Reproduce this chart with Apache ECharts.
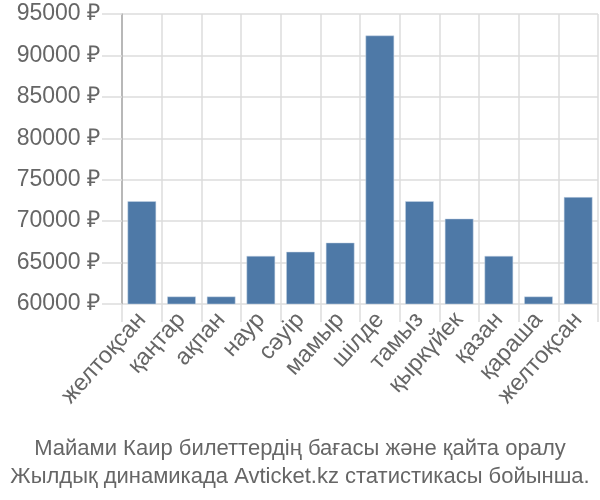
<!DOCTYPE html>
<html><head><meta charset="utf-8">
<script src="https://cdn.jsdelivr.net/npm/echarts@6/dist/echarts.min.js"></script>
<style>html,body{margin:0;padding:0;background:#fff}#c{width:600px;height:500px}</style>
</head><body><div id="c"></div>
<script>
const categories = ['желтоқсан','қаңтар','ақпан','наур','сәуір','мамыр','шілде','тамыз','қыркүйек','қазан','қараша','желтоқсан'];
const prices = [72400, 60900, 60900, 65800, 66300, 67400, 92400, 72400, 70300, 65800, 60900, 72900];
const titleLines = ['Майами Каир билеттердің бағасы және қайта оралу', 'Жылдық динамикада Avticket.kz статистикасы бойынша.'];

const chart = echarts.init(document.getElementById('c'));
chart.setOption({
  animation: false,
  title: {
    text: titleLines.join('\n'),
    left: 'center', bottom: 4,
    textStyle: { fontFamily: 'Liberation Sans', fontSize: 22, fontWeight: 'normal', color: '#666', lineHeight: 28 }
  },
  grid: { left: 122, right: 2, top: 14, bottom: 196 },
  xAxis: {
    type: 'category', data: categories,
    axisLine: { show: false },
    axisTick: { show: true, length: 18, lineStyle: { color: '#ddd', width: 1.5 } },
    splitLine: { show: true, lineStyle: { color: '#ddd', width: 1.5 } },
    axisLabel: { rotate: 48, fontFamily: 'Liberation Sans', fontSize: 23.5, color: '#666', margin: 12, interval: 0 }
  },
  yAxis: {
    type: 'value', min: 60000, max: 95000, interval: 5000,
    axisLine: { show: true, lineStyle: { color: '#aaa', width: 1.5 } },
    axisTick: { show: true, length: 20, lineStyle: { color: '#ddd', width: 1.5 } },
    splitLine: { lineStyle: { color: '#ddd', width: 1.5 } },
    axisLabel: { formatter: v => v + ' ₽', fontFamily: 'Liberation Sans', fontSize: 23, color: '#666', margin: 22 }
  },
  series: [{
    type: 'bar', data: prices, barCategoryGap: '28%',
    itemStyle: { color: '#4e79a7', borderColor: '#c9d6e6', borderWidth: 0.5 }
  }]
});
</script></body></html>
